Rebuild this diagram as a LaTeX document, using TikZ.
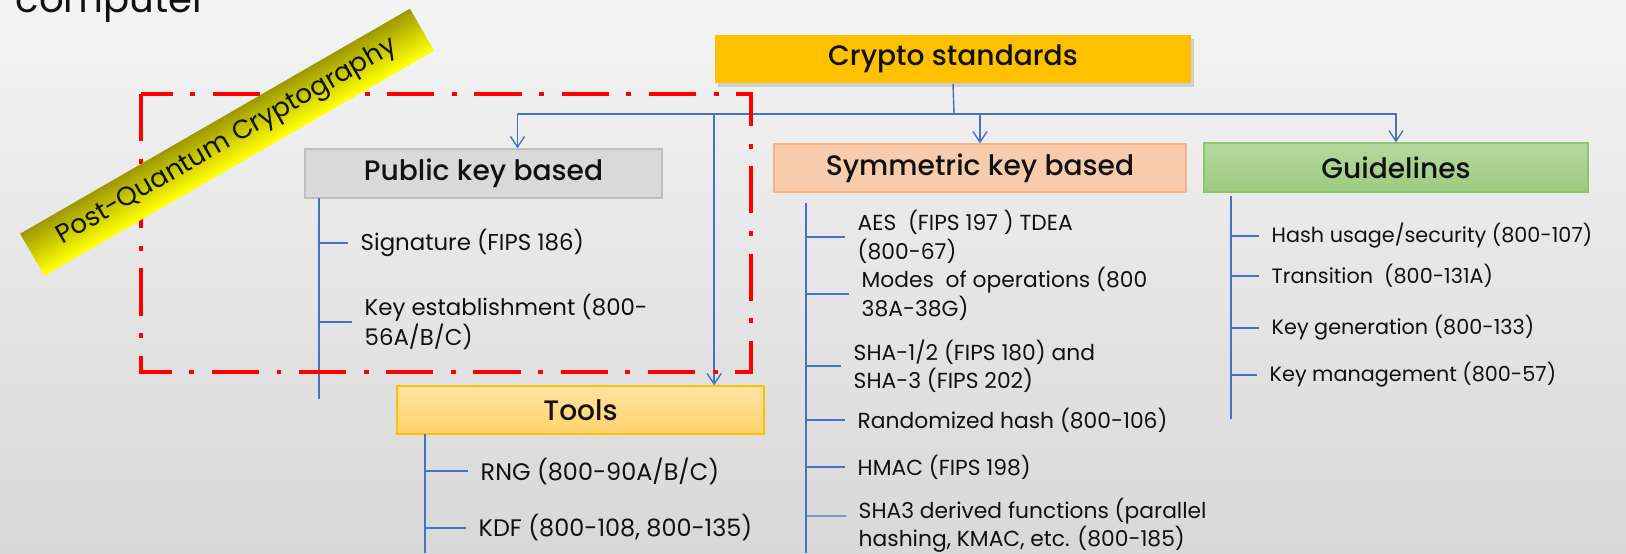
\documentclass[tikz,border=0pt]{standalone}
\usepackage{fontspec}
\setmainfont{Poppins}
\newfontfamily\headfont{Poppins Medium}
\usetikzlibrary{arrows.meta,calc,positioning,shadows}
\definecolor{Slide}{HTML}{F4F4F4}
\definecolor{SlideLow}{HTML}{D8D8D8}
\definecolor{LinkBlue}{HTML}{4472C4}
\definecolor{Amber}{HTML}{FFC000}
\definecolor{GreyFill}{HTML}{D9D9D9}
\definecolor{GreyEdge}{HTML}{BFBFBF}
\definecolor{Peach}{HTML}{F8CBAD}
\definecolor{PeachEdge}{HTML}{F4B183}
\definecolor{LeafTop}{HTML}{B6D8A0}
\definecolor{LeafLow}{HTML}{9DCB7F}
\definecolor{LeafEdge}{HTML}{8FC46E}
\definecolor{ToolTop}{HTML}{FFE3A3}
\definecolor{ToolLow}{HTML}{FFD36B}
\definecolor{Olive}{HTML}{9E9A00}
\definecolor{Lemon}{HTML}{FFFF00}
\definecolor{TextInk}{HTML}{111111}

\begin{document}
\begin{tikzpicture}[x=0.01cm,y=-0.01cm,every node/.style={text=TextInk},head/.style={font=\headfont\fontsize{8}{9.6}\selectfont,minimum height=0.48cm,inner sep=0pt},item/.style={anchor=west,align=left,inner xsep=0.12cm,inner ysep=0pt,font=\fontsize{6.2}{8.1}\selectfont},pubitem/.style={item,font=\fontsize{6.5}{8.3}\selectfont},toolitem/.style={item,font=\fontsize{6.8}{8.3}\selectfont},guideitem/.style={item,font=\fontsize{5.9}{8.1}\selectfont},link/.style={draw=LinkBlue,line width=0.4pt},arrow/.style={link,-{Straight Barb[length=3pt,width=4pt]}},pqcbox/.style={draw=red,line width=1.4pt,dash pattern=on 13.4pt off 5pt on 1.4pt off 5pt}]
\clip (0,0) rectangle (1626,553);
\shade[top color=Slide,bottom color=SlideLow] (0,0) rectangle (1626,553);
\node[anchor=base west,inner sep=0pt,font=\fontsize{11}{12}\selectfont] (ctitle) at (15,12) {computer};

\node[head,fill=Amber,minimum width=4.76cm,drop shadow={opacity=0.3,shadow xshift=0.03cm,shadow yshift=-0.04cm}] (crypto) at (953,59) {Crypto standards};
\node[head,fill=GreyFill,draw=GreyEdge,minimum width=3.57cm,minimum height=0.49cm] (pub) at (483.5,173.5) {Public key based};
\node[head,fill=Peach,draw=PeachEdge,minimum width=4.12cm] (sym) at (980,168) {Symmetric key based};
\node[head,top color=LeafTop,bottom color=LeafLow,draw=LeafEdge,minimum width=3.84cm,minimum height=0.49cm] (guide) at (1396,167.5) {Guidelines};
\node[head,top color=ToolTop,bottom color=ToolLow,draw=Amber,minimum width=3.67cm] (tools) at (580.5,410) {Tools};

\coordinate (hub) at (954,114);
\draw[link] (crypto.south) -- (hub);
\draw[arrow] (hub) -| ([xshift=0.34cm]pub.north);
\draw[arrow] (hub) -| (crypto.west |- tools.north);
\draw[arrow] (hub) -| (sym.north);
\draw[arrow] (hub) -| (guide.north);

\coordinate (pubtop) at (319,198);
\coordinate (pubend) at (319,399);
\draw[link] (pubtop) -- (pubend);
\node[pubitem] (sig) at (348,243) {Signature (FIPS 186)};
\node[pubitem] (kest) at (352,322) {Key establishment (800-\\56A/B/C)};
\foreach \n in {sig,kest} \draw[link] (pubtop |- \n.west) -- (\n.west);

\coordinate (tooltop) at (425,434);
\coordinate (toolend) at (425,553);
\draw[link] (tooltop) -- (toolend);
\node[toolitem] (rng) at (468,471) {RNG (800-90A/B/C)};
\node[toolitem] (kdf) at (466,528) {KDF (800-108, 800-135)};
\foreach \n in {rng,kdf} \draw[link] (tooltop |- \n.west) -- (\n.west);

\coordinate (symtop) at (806,203);
\coordinate (symend) at (806,553);
\draw[link] (symtop) -- (symend);
\node[item] (aes) at (845,237) {AES\ \ (FIPS 197 ) TDEA\\(800-67)};
\node[item] (modes) at (849,294) {Modes\ \ of operations (800\\38A-38G)};
\node[item] (sha) at (841,366) {SHA-1/2 (FIPS 180) and\\SHA-3 (FIPS 202)};
\node[item] (rhash) at (845,420) {Randomized hash (800-106)};
\node[item] (hmac) at (845,467) {HMAC (FIPS 198)};
\node[item] (sderiv) at (846,525) {SHA3 derived functions (parallel\\hashing, KMAC, etc. (800-185)};
\foreach \n in {aes,modes,sha,rhash,hmac} \draw[link] (symtop |- \n.west) -- (\n.west);
\draw[link] (symtop |- sderiv.west) ++(0,-9) -- ([yshift=0.09cm]sderiv.west);

\coordinate (guidetop) at (1231,196);
\coordinate (guideend) at (1231,419);
\draw[link] (guidetop) -- (guideend);
\node[guideitem] (husage) at (1259,236) {Hash usage/security (800-107)};
\node[guideitem] (trans) at (1259,276) {Transition\ \ (800-131A)};
\node[guideitem] (kgen) at (1259,328) {Key generation (800-133)};
\node[guideitem] (kmgmt) at (1257,375) {Key management (800-57)};
\foreach \n in {husage,trans,kgen,kmgmt} \draw[link] (guidetop |- \n.west) -- (\n.west);

\draw[pqcbox] (141,94) rectangle (751,372);
\begin{scope}[shift={(227,142)},rotate=30]
\foreach \k [evaluate=\k as \mix using \k*100/15] in {0,...,15}
  \fill[Lemon!\mix!Olive] (-225,-24+3*\k) rectangle (225,-20.6+3*\k);
\node[transform shape,inner sep=0pt,font=\fontsize{7.5}{8}\selectfont] (pqc) at (0,0) {Post-Quantum Cryptography};
\end{scope}

\end{tikzpicture}
\end{document}
